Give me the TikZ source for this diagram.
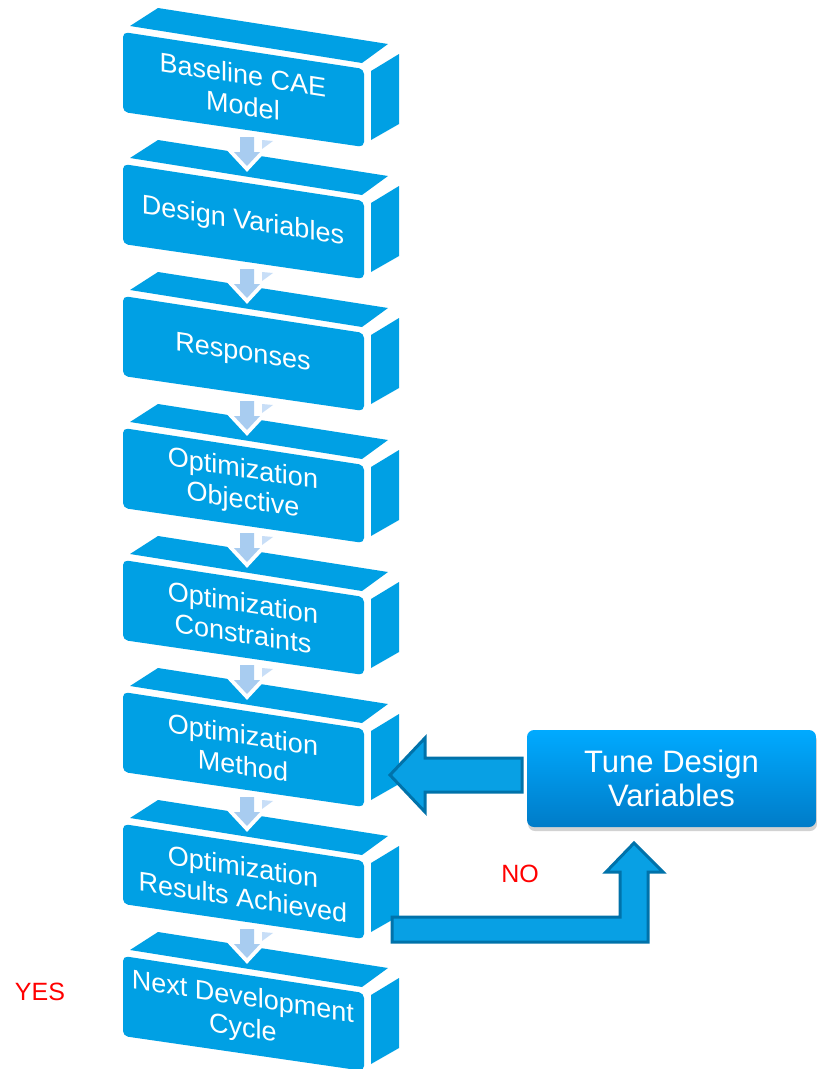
\documentclass[tikz,border=0pt]{standalone}
\usepackage{fontspec}
\setmainfont{Liberation Sans}
\usetikzlibrary{shadows}
\definecolor{boxblue}{RGB}{0,160,228}
\definecolor{arrowline}{RGB}{0,114,170}
\definecolor{arrowfill}{RGB}{8,160,228}
\definecolor{lightarr}{RGB}{168,204,240}
\definecolor{lighttri}{RGB}{200,222,247}
\definecolor{tunetop}{RGB}{0,170,255}
\definecolor{tunebot}{RGB}{0,124,200}
\definecolor{lblred}{RGB}{255,0,0}
\tikzset{
  boxtext/.style={text=white, align=center, inner sep=0pt, font=\fontsize{27}{31}\selectfont},
  tunebox/.style={rounded corners=7pt, top color=tunetop, bottom color=tunebot, text=white,
    align=center, inner sep=0pt, minimum width=289pt, minimum height=97pt,
    font=\fontsize{31}{34}\selectfont, drop shadow={opacity=0.35, shadow xshift=1pt, shadow yshift=-4pt}},
  blockarrow/.style={fill=arrowfill, draw=arrowline, line width=3pt, line join=miter},
  lbl/.style={text=lblred, inner sep=0pt, font=\fontsize{25}{28}\selectfont},
  downarr/.style={preaction={draw=white, line width=8pt}, fill=lightarr}
}
\begin{document}
\begin{tikzpicture}[x=1pt,y=-1pt]
\useasboundingbox[fill=white] (0,0) rectangle (817,1069);
\foreach \k/\txt in {0/{Baseline CAE\\Model}, 1/{Design Variables}, 2/{Responses},
  3/{Optimization\\Objective}, 4/{Optimization\\Constraints}, 5/{Optimization\\Method},
  6/{Optimization\\Results Achieved}, 7/{Next Development\\Cycle}}{
  \begin{scope}[shift={(0,132*\k)}]
    \fill[boxblue] (130,26) -- (158,8) -- (388,44) -- (362,63) -- cycle;
    \fill[boxblue] (371,71) -- (399,54) -- (399,124) -- (371,140) -- cycle;
    \fill[boxblue, rounded corners=5pt] (123,32) -- (364,69) -- (364,147) -- (123,112) -- cycle;
    \begin{scope}[shift={(243,90)}, yslant=-0.155]
      \node[boxtext, transform shape] (b\k) at (0,0) {\txt};
    \end{scope}
  \end{scope}
}
\foreach \k in {0,...,6}{
  \begin{scope}[shift={(0,132*\k)}]
    \path[downarr] (240,137) -- (254,137) -- (254,152) -- (260,152) -- (247,166) -- (234,152) -- (240,152) -- cycle;
    \fill[lighttri] (262,140) -- (273,141) -- (262,149) -- cycle;
  \end{scope}
}
\node[tunebox] (tune) at (671.5,778.5) {Tune Design\\Variables};
\draw[blockarrow] (522,758) -- (425,758) -- (425,738) -- (390,775) -- (425,812) -- (425,792) -- (522,792) -- cycle;
\draw[blockarrow] (392,917) -- (620,917) -- (620,872) -- (606,872) -- (634,843) -- (663,872) -- (648,872) -- (648,942) -- (392,942) -- cycle;
\node[lbl] (no) at (520,874) {NO};
\node[lbl] (yes) at (40,992) {YES};
\end{tikzpicture}
\end{document}
